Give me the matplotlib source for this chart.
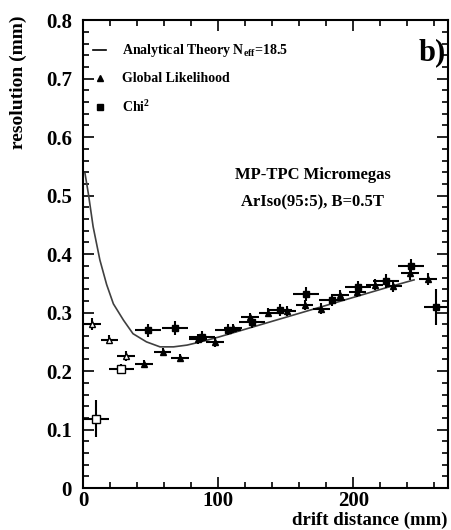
import numpy as np
import matplotlib.pyplot as plt
from matplotlib.ticker import MultipleLocator, FuncFormatter

plt.rcParams['font.family'] = ['Liberation Serif', 'DejaVu Serif']
plt.rcParams['font.weight'] = 'bold'
plt.rcParams['mathtext.fontset'] = 'custom'
plt.rcParams['mathtext.rm'] = 'Liberation Serif:bold'
plt.rcParams['mathtext.it'] = 'Liberation Serif:bold'

# analytical theory curve (N_eff = 18.5)
theory_x = [1.5, 4, 7.5, 12.5, 17.5, 22.5, 30, 37, 47, 57, 67, 77, 87,
            100, 125, 150, 175, 200, 225, 245]
theory_y = [0.538, 0.503, 0.447, 0.390, 0.348, 0.315, 0.287, 0.264, 0.250,
            0.2415, 0.2415, 0.2445, 0.250, 0.258, 0.275, 0.292, 0.309,
            0.326, 0.343, 0.356]

# global likelihood (triangles)
gl_x = [7, 19.5, 32, 45, 59, 72, 85, 97.6, 111, 123.5, 137, 151, 164,
        176.4, 190, 203, 215.8, 229.7, 242.2, 255.2]
gl_y = [0.280, 0.254, 0.226, 0.212, 0.233, 0.223, 0.255, 0.250, 0.273,
        0.292, 0.300, 0.303, 0.313, 0.307, 0.330, 0.336, 0.348, 0.346,
        0.368, 0.357]
gl_xerr = 6.5
gl_yerr = [0.010, 0.008, 0.008, 0.007, 0.007, 0.007, 0.008, 0.008, 0.008,
           0.008, 0.008, 0.008, 0.009, 0.009, 0.009, 0.009, 0.009, 0.010,
           0.012, 0.010]
gl_open = 3  # first bins drawn as open markers

# chi2 fit (squares)
chi_x = [10, 28.5, 48, 68, 88, 107.5, 125, 145.5, 165, 184.5, 203.5, 224,
         242.5, 261.5]
chi_y = [0.119, 0.204, 0.270, 0.273, 0.259, 0.271, 0.284, 0.304, 0.332,
         0.321, 0.344, 0.354, 0.380, 0.310]
chi_xerr = 9.5
chi_yerr = [0.031, 0.008, 0.011, 0.012, 0.010, 0.010, 0.010, 0.010, 0.012,
            0.010, 0.010, 0.012, 0.012, 0.031]
chi_open = 2

fig = plt.figure(figsize=(4.51, 5.30), dpi=100)
ax = fig.add_axes([0.184, 0.079, 0.809, 0.883])

ax.plot(theory_x, theory_y, color='#404040', lw=1.2, zorder=2)

eb = dict(ecolor='black', elinewidth=1.5, capsize=0, ls='none', zorder=3)
ax.errorbar(gl_x[:gl_open], gl_y[:gl_open], xerr=gl_xerr, yerr=gl_yerr[:gl_open],
            marker='^', ms=5, mfc='white', mec='black', mew=1.0, **eb)
ax.errorbar(gl_x[gl_open:], gl_y[gl_open:], xerr=gl_xerr, yerr=gl_yerr[gl_open:],
            marker='^', ms=4, mfc='black', mec='black', **eb)
ax.errorbar(chi_x[:chi_open], chi_y[:chi_open], xerr=chi_xerr, yerr=chi_yerr[:chi_open],
            marker='s', ms=6, mfc='white', mec='black', mew=1.0, **eb)
ax.errorbar(chi_x[chi_open:], chi_y[chi_open:], xerr=chi_xerr, yerr=chi_yerr[chi_open:],
            marker='s', ms=5, mfc='black', mec='black', **eb)

ax.set_xlim(0, 270)
ax.set_ylim(0, 0.8)
ax.xaxis.set_major_locator(MultipleLocator(100))
ax.xaxis.set_minor_locator(MultipleLocator(20))
ax.yaxis.set_major_locator(MultipleLocator(0.1))
ax.yaxis.set_minor_locator(MultipleLocator(0.02))
ax.yaxis.set_major_formatter(FuncFormatter(lambda v, p: '0' if abs(v) < 1e-9 else f'{v:.1f}'))
ax.tick_params(which='both', direction='in', top=True, right=True, labelsize=15, width=1.2)
ax.tick_params(which='major', length=8)
ax.tick_params(which='minor', length=4)
ax.tick_params(axis='y', pad=8)
ax.tick_params(axis='x', pad=2)
for s in ax.spines.values():
    s.set_linewidth(1.5)

ax.set_xlabel('drift distance (mm)', fontsize=13.5, fontweight='bold')
ax.xaxis.set_label_coords(1.0, -0.087)
ax.xaxis.label.set_ha('right')
ax.xaxis.label.set_va('bottom')
ax.set_ylabel('resolution (mm)', fontsize=14, fontweight='bold')
ax.yaxis.set_label_coords(-0.2, 1.01)
ax.yaxis.label.set_va('top')
ax.yaxis.label.set_ha('right')

# legend entries
lx, tx = 0.047, 0.107
ax.plot([lx - 0.02, lx + 0.015], [0.936, 0.936], transform=ax.transAxes, color='black', lw=1.2)
ax.plot([lx], [0.876], transform=ax.transAxes, marker='^', ms=4, color='black', ls='none')
ax.plot([lx], [0.814], transform=ax.transAxes, marker='s', ms=4, color='black', ls='none')
ax.text(tx, 0.936, r'Analytical Theory N$_{\rm eff}$=18.5', transform=ax.transAxes,
        fontsize=10, va='center')
ax.text(tx, 0.876, 'Global Likelihood', transform=ax.transAxes, fontsize=10, va='center')
ax.text(tx, 0.814, r'Chi$^2$', transform=ax.transAxes, fontsize=10, va='center')

ax.text(0.995, 0.93, 'b)', transform=ax.transAxes, fontsize=22, ha='right', va='center')
ax.text(0.63, 0.67, 'MP-TPC Micromegas', transform=ax.transAxes, fontsize=12,
        ha='center', va='center')
ax.text(0.63, 0.61, 'ArIso(95:5), B=0.5T', transform=ax.transAxes, fontsize=12,
        ha='center', va='center')

fig.savefig('out.png', dpi=100)
